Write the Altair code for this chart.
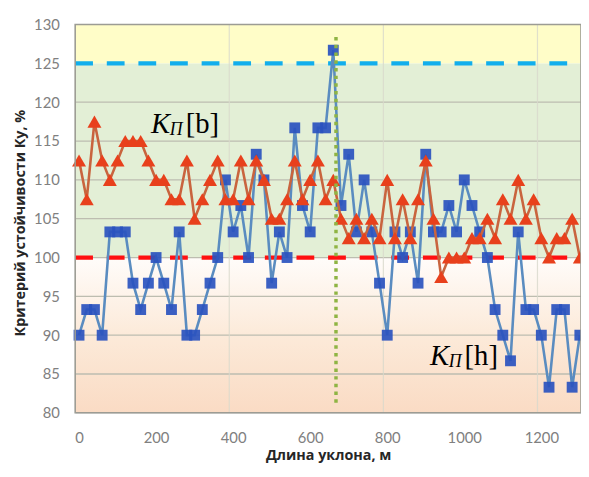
import altair as alt
import pandas as pd

# ---- data ----
dist = [0, 20, 40, 60, 80, 100, 120, 140, 160, 180, 200, 220, 240, 260, 280, 300,
        320, 340, 360, 380, 400, 420, 440, 460, 480, 500, 520, 540, 560, 580, 600,
        620, 640, 660, 680, 700, 720, 740, 760, 780, 800, 820, 840, 860, 880, 900,
        920, 940, 960, 980, 1000, 1020, 1040, 1060, 1080, 1100, 1120, 1140, 1160,
        1180, 1200, 1220, 1240, 1260, 1280, 1300]

kb = [112.5, 107.5, 117.5, 112.5, 110, 112.5, 115, 115, 115, 112.5, 110, 110,
      107.5, 107.5, 112.5, 105, 107.5, 110, 112.5, 107.5, 107.5, 112.5, 107.5,
      112.5, 110, 105, 105, 107.5, 112.5, 107.5, 110, 112.5, 107.5, 110, 105,
      102.5, 105, 102.5, 105, 102.5, 110, 102.5, 107.5, 102.5, 107.5, 112.5, 105,
      97.5, 100, 100, 100, 102.5, 102.5, 105, 102.5, 107.5, 105, 110, 105, 107.5,
      102.5, 100, 102.5, 102.5, 105, 100]

kh = [90, 93.3, 93.3, 90, 103.3, 103.3, 103.3, 96.7, 93.3, 96.7, 100, 96.7, 93.3,
      103.3, 90, 90, 93.3, 96.7, 100, 110, 103.3, 106.7, 100, 113.3, 110, 96.7,
      103.3, 100, 116.7, 106.7, 103.3, 116.7, 116.7, 126.7, 106.7, 113.3, 103.3,
      110, 103.3, 96.7, 90, 103.3, 100, 103.3, 96.7, 113.3, 103.3, 103.3, 106.7,
      103.3, 110, 106.7, 103.3, 100, 93.3, 90, 86.7, 103.3, 93.3, 93.3, 90, 83.3,
      93.3, 93.3, 83.3, 90]

band_lo = [125, 100]
band_hi = [130, 125]
band_col = ["#fffdc8", "#e3efd6"]
pink_lo, pink_hi = 80, 100

y_ticks = [80, 85, 90, 95, 100, 105, 110, 115, 120, 125, 130]
x_ticks = [0, 200, 400, 600, 800, 1000, 1200]
grid_y = [85, 90, 95, 100, 105, 110, 115, 120]
grid_x = [390, 790, 1190]
upper_limit = 125
lower_limit = 100
split_x = 667
split_y = [81.3, 128.7]

W, H = 512, 393
XD = [-10, 1303]
YD = [80, 130]

series = pd.DataFrame({"x": dist, "kb": kb, "kh": kh})

xs = alt.Scale(domain=XD, nice=False, zero=False)
ys = alt.Scale(domain=YD, nice=False, zero=False)

xaxis = alt.Axis(values=x_ticks, format="d", labelOverlap=False,
                 title="Длина уклона,  м", grid=False, ticks=False,
                 domain=False, labelFont="Lato", labelFontSize=15, labelColor="#808080",
                 labelPadding=18, titleFont="Open Sans", titleFontSize=14.5,
                 titleFontWeight="bold", titleColor="#262626", titleBaseline="alphabetic",
                 titleY=47)
yaxis = alt.Axis(values=y_ticks, format="d", labelOverlap=False,
                 title="Критерий  устойчивости Ку, %", grid=False,
                 ticks=False, domain=False, labelFont="Lato", labelFontSize=15,
                 labelColor="#808080", labelPadding=16, titleFont="Open Sans",
                 titleFontSize=14.5, titleFontWeight="bold", titleColor="#262626",
                 titleX=-48, titleY=H / 2 + 4, titleBaseline="bottom", titleAngle=-90)


def X(field):
    return alt.X(field, scale=xs, axis=xaxis)


def Y(field):
    return alt.Y(field, scale=ys, axis=yaxis)


bands_df = pd.DataFrame({"lo": band_lo, "hi": band_hi, "c": band_col})
bands = alt.Chart(bands_df).mark_rect().encode(
    x=alt.value(0), x2=alt.value(W),
    y=Y("lo:Q"), y2="hi:Q",
    color=alt.Color("c:N", scale=None),
)

pink = alt.Chart(pd.DataFrame({"lo": [pink_lo], "hi": [pink_hi]})).mark_rect(
    fill={"gradient": "linear", "x1": 0, "y1": 0, "x2": 0, "y2": 1,
          "stops": [{"offset": 0, "color": "#fffcfa"},
                    {"offset": 0.5, "color": "#fcead9"},
                    {"offset": 1, "color": "#fadbc4"}]}
).encode(x=alt.value(0), x2=alt.value(W), y=Y("lo:Q"), y2="hi:Q")

hgrid = alt.Chart(pd.DataFrame({"v": grid_y})).mark_rule(
    color="#bdbdb0", strokeWidth=1.3).encode(
    x=alt.value(0), x2=alt.value(W), y=Y("v:Q"))
vgrid = alt.Chart(pd.DataFrame({"v": grid_x})).mark_rule(
    color="#d8d8cc", strokeWidth=1.2, opacity=0.8).encode(
    x=X("v:Q"), y=alt.value(0), y2=alt.value(H))

lim_df = pd.DataFrame({"v": [upper_limit, lower_limit], "c": ["#12aeec", "#ff1010"]})
limits = alt.Chart(lim_df).mark_rule(strokeWidth=4.3, strokeDash=[18, 14]).encode(
    x=alt.value(0), x2=alt.value(W),
    y=Y("v:Q"), color=alt.Color("c:N", scale=None))

blue_line = alt.Chart(series).mark_line(color="#5a8cc0", strokeWidth=2.6).encode(
    x=X("x:Q"), y=Y("kh:Q"))
blue_pts = alt.Chart(series).mark_point(shape="square", filled=True, size=121,
                                        color="#2a52bf", opacity=0.92).encode(
    x=X("x:Q"), y=Y("kh:Q"))

red_line = alt.Chart(series).mark_line(color="#c9643e", strokeWidth=2.6).encode(
    x=X("x:Q"), y=Y("kb:Q"))
red_pts = alt.Chart(series).mark_point(shape="triangle-up", filled=True, size=200,
                                       color="#e8401c", opacity=1).encode(
    x=X("x:Q"), y=Y("kb:Q"))

split = alt.Chart(pd.DataFrame({"x": [split_x], "y1": [split_y[0]], "y2": [split_y[1]]})
                  ).mark_rule(color="#8fb443", strokeWidth=3.5, strokeDash=[3.5, 4.3]).encode(
    x=X("x:Q"), y=Y("y1:Q"), y2="y2:Q")

lab_df = pd.DataFrame({"x": [187, 911], "y": [116.0, 86.1],
                       "k": ["K", "K"], "s": ["П", "П"], "b": ["[b]", "[h]"]})
tfont = "Liberation Serif"
lab_k = alt.Chart(lab_df).mark_text(font=tfont, fontStyle="italic", fontSize=29,
                                    align="left", baseline="alphabetic", color="#000000").encode(
    x=X("x:Q"), y=Y("y:Q"), text="k:N")
lab_s = alt.Chart(lab_df).mark_text(font=tfont, fontStyle="italic", fontSize=18,
                                    align="left", baseline="alphabetic", dx=19, dy=2,
                                    color="#000000").encode(
    x=X("x:Q"), y=Y("y:Q"), text="s:N")
lab_b = alt.Chart(lab_df).mark_text(font=tfont, fontSize=29,
                                    align="left", baseline="alphabetic", dx=35,
                                    color="#000000").encode(
    x=X("x:Q"), y=Y("y:Q"), text="b:N")

frame = alt.Chart(pd.DataFrame({"a": [0]})).mark_rect(
    fillOpacity=0, stroke="#9c9c94", strokeWidth=1.6).encode(
    x=alt.value(0), x2=alt.value(W), y=alt.value(0), y2=alt.value(H))

chart = alt.layer(
    bands, pink, hgrid, vgrid, limits, blue_line, blue_pts, red_line, red_pts,
    split, lab_k, lab_s, lab_b, frame
).properties(
    width=W, height=H,
    autosize=alt.AutoSizeParams(type="none"),
    padding={"left": 68, "top": 14, "right": 0, "bottom": 48},
).configure_view(stroke=None).configure(background="#ffffff")

chart.save("out.html", embed_options={"renderer": "svg", "actions": False})
